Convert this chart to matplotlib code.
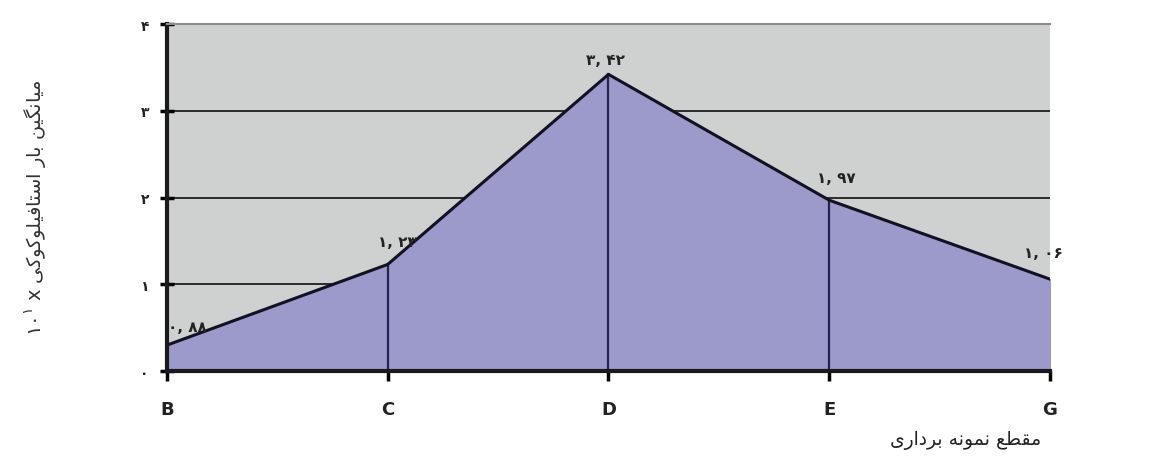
import matplotlib
matplotlib.use("Agg")
import numpy as np
from matplotlib import pyplot as plt

# sampling sections and mean load values
sections = ["B", "C", "D", "E", "G"]
mean_load = [0.30, 1.23, 3.42, 1.97, 1.06]
point_labels = ["\u06f0, \u06f8\u06f8", "\u06f1, \u06f2\u06f3", "\u06f3, \u06f4\u06f2",
                "\u06f1, \u06f9\u06f7", "\u06f1, \u06f0\u06f6"]
y_ticks = [0, 1, 2, 3, 4]
y_tick_labels = ["\u06f0", "\u06f1", "\u06f2", "\u06f3", "\u06f4"]

# persian text written in presentation forms, visual order (no shaping engine here)
x_title = ("\ufeef\ufead\ufe8d\ufea9\ufeae\ufe91 "
           "\ufeea\ufee7\ufeee\ufee4\ufee7 "
           "\ufeca\ufec4\ufed8\ufee3")
y_title = ("\u06f1\u06f0$^{\u06f1}$ x "
           "\ufef0\ufedb\ufeee\ufedb\ufeee\ufee0\ufef4\ufed3\ufe8e\ufe98\ufeb3\ufe8d "
           "\ufead\ufe8e\ufe91 "
           "\ufee6\ufef4\ufb95\ufee7\ufe8e\ufef4\ufee3")

plt.rcParams['font.family'] = ['DejaVu Sans']
plt.rcParams['mathtext.fontset'] = 'dejavusans'

fig = plt.figure(figsize=(11.62, 4.64), dpi=100)
ax = fig.add_axes([0.1437, 0.198, 0.7599, 0.748])
ax.set_facecolor("#cfd0d0")

x = np.arange(len(sections))
ax.fill_between(x, 0, mean_load, color="#9b9aca", zorder=2)
ax.plot(x, mean_load, color="#111122", lw=2.2, zorder=4)

# drop lines from inner points
for xi, v in zip(x[1:-1], mean_load[1:-1]):
    ax.plot([xi, xi], [0, v], color="#24244e", lw=1.6, zorder=3)

for yy in y_ticks[1:-1]:
    ax.axhline(yy, color="#2b2b2b", lw=1.4, zorder=1)

offsets = [(15, 8), (7, 11), (-2, 5), (5, 11), (-5, 14)]
for xi, v, lab, off in zip(x, mean_load, point_labels, offsets):
    ax.annotate(lab, (xi, v), xytext=off, textcoords="offset points",
                ha="center", va="bottom", fontsize=11, fontweight="bold",
                color="#222222", zorder=5)

ax.set_xlim(0, len(sections) - 1)
ax.set_ylim(0, 4)
ax.set_xticks(x)
ax.set_xticklabels(sections, fontsize=13, fontweight="bold", color="#222222")
ax.set_yticks(y_ticks)
ax.set_yticklabels(y_tick_labels, fontsize=10, fontweight="bold", color="#222222")
ax.tick_params(axis="y", direction="inout", length=10, width=2.5, pad=8)
ax.tick_params(axis="x", direction="out", length=7, width=2.5, pad=14)

ax.spines["left"].set_linewidth(3)
ax.spines["left"].set_color("#1a1a1a")
ax.spines["bottom"].set_linewidth(3)
ax.spines["bottom"].set_color("#1a1a1a")
ax.spines["right"].set_visible(False)
ax.spines["top"].set_color("#8c8c8c")
ax.spines["top"].set_linewidth(1.5)
for sp in ax.spines.values():
    sp.set_zorder(6)

fig.text(0.03, 0.552, y_title, rotation=90, ha="center", va="center",
         fontsize=14, color="#333333")
fig.text(0.896, 0.05, x_title, ha="right", va="center",
         fontsize=13.5, color="#222222")

fig.savefig("out.png", dpi=100)
